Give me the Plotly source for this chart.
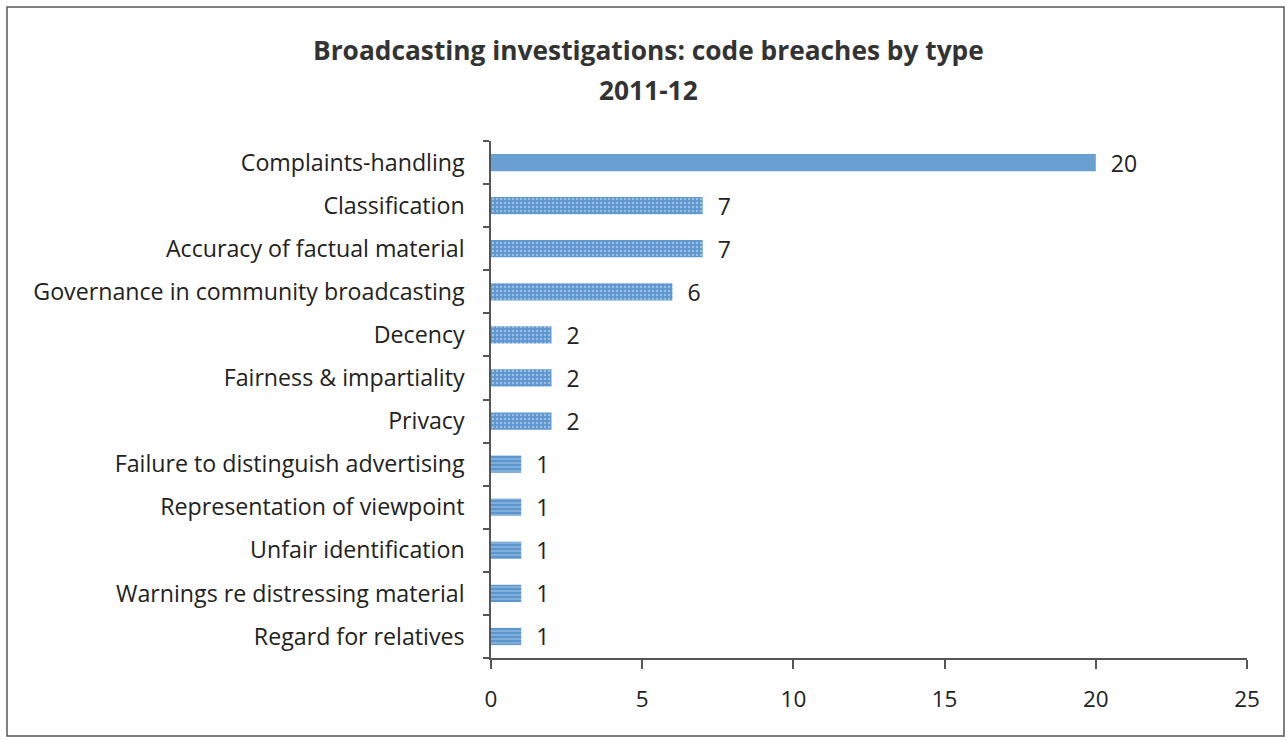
import plotly.graph_objects as go

categories = [
    "Complaints-handling",
    "Classification",
    "Accuracy of factual material",
    "Governance in community broadcasting",
    "Decency",
    "Fairness & impartiality",
    "Privacy",
    "Failure to distinguish advertising",
    "Representation of viewpoint",
    "Unfair identification",
    "Warnings re distressing material",
    "Regard for relatives",
]
values = [20, 7, 7, 6, 2, 2, 2, 1, 1, 1, 1, 1]
x_ticks = [0, 5, 10, 15, 20, 25]
title_lines = ["Broadcasting investigations: code breaches by type", "2011-12"]

FONT = "Open Sans"
W, H = 1287, 740
L, R, T, B = 491, 40, 141, 82

patterns = [""] + ["."] * 6 + ["-"] * 5

fig = go.Figure()
fig.add_trace(go.Bar(
    y=categories,
    x=values,
    orientation="h",
    width=0.4,
    marker=dict(
        color="#6a9fd2",
        line=dict(width=0),
        pattern=dict(shape=patterns, fgcolor="#d8e8f6", bgcolor="#5b96cf",
                     size=4, solidity=0.3, fillmode="overlay"),
    ),
    text=["  " + str(v) for v in values],
    textposition="outside",
    constraintext="none",
    textfont=dict(family=FONT, size=23, color="#222222"),
    cliponaxis=False,
))

fig.update_layout(
    width=W, height=H,
    margin=dict(l=L, r=R, t=T, b=B, pad=0),
    paper_bgcolor="white",
    plot_bgcolor="white",
    showlegend=False,
    bargap=0.6,
    font=dict(family=FONT, color="#222222"),
    xaxis=dict(
        range=[0, 25],
        tickvals=x_ticks,
        ticktext=[str(t) for t in x_ticks],
        ticks="outside", ticklen=9, tickcolor="#555555", tickwidth=1.5,
        showline=True, linecolor="#555555", linewidth=1.5,
        showgrid=False, zeroline=False,
        tickfont=dict(family=FONT, size=22.5, color="#222222"),
        ticklabelstandoff=11,
    ),
    yaxis=dict(
        categoryorder="array",
        categoryarray=categories[::-1],
        autorange=False,
        range=[-0.5, len(categories) - 0.5],
        ticks="outside", ticklen=6, tickcolor="#555555", tickwidth=1.5,
        tickson="boundaries",
        showline=True, linecolor="#555555", linewidth=1.5,
        showgrid=False, zeroline=False,
        tickfont=dict(family=FONT, size=23.2, color="#222222"),
        ticklabelstandoff=20,
    ),
)

pw = W - L - R
ph = H - T - B

# title lines as annotations for precise placement
for line, yc in zip(title_lines, [50, 90]):
    fig.add_annotation(
        text="<b>" + line + "</b>",
        xref="paper", yref="paper",
        x=(648 - L) / pw, y=(H - B - yc) / ph,
        xanchor="center", yanchor="middle",
        showarrow=False,
        font=dict(family=FONT, size=26.3, color="#333333"),
    )

# outer chart border
fig.add_shape(
    type="rect", xref="paper", yref="paper",
    x0=(7 - L) / pw, x1=(1284 - L) / pw,
    y0=(H - B - 736) / ph, y1=(H - B - 7) / ph,
    line=dict(color="#555555", width=1.5),
    fillcolor="rgba(0,0,0,0)",
    layer="below",
)

fig.write_html("out.html")
